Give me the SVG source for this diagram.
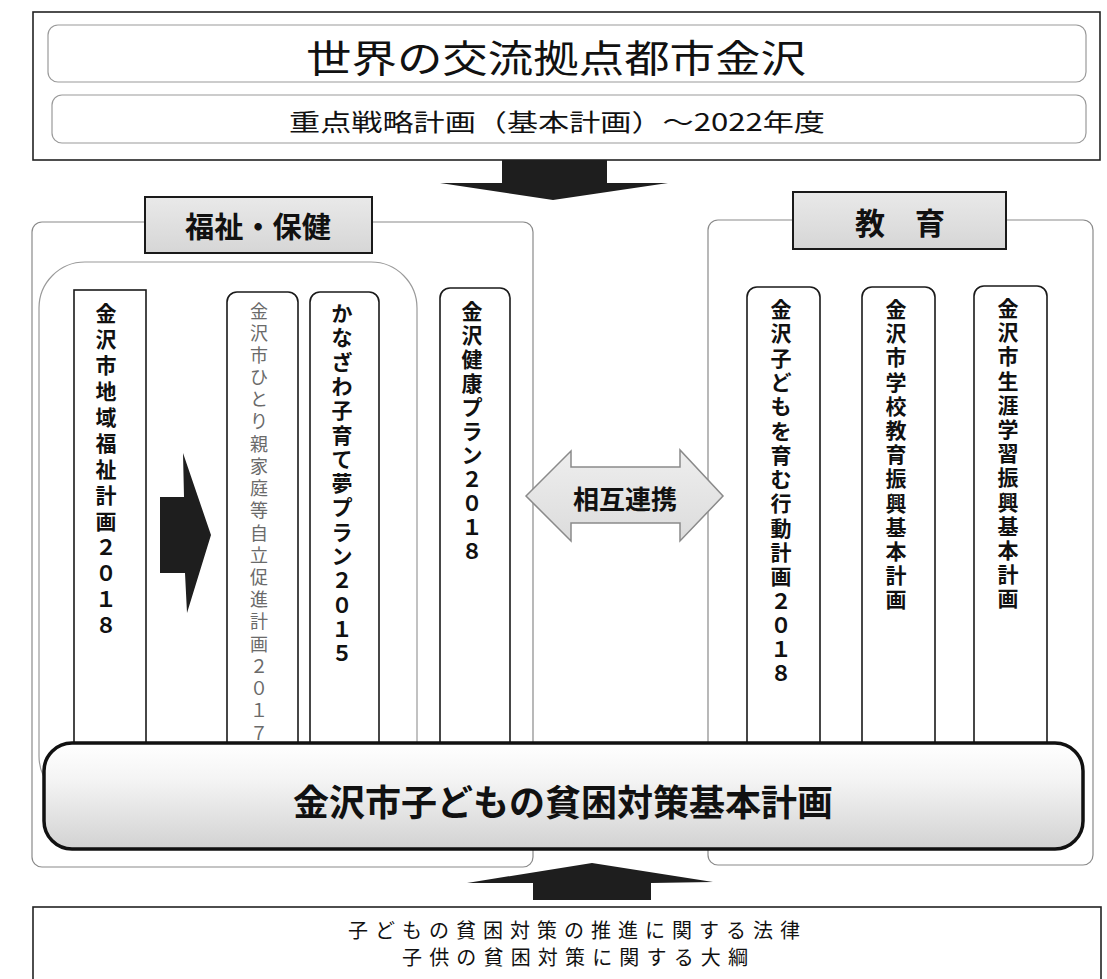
<svg xmlns="http://www.w3.org/2000/svg" width="1107" height="979" viewBox="0 0 1107 979">
<defs>
<style>
text{font-family:"Noto Sans CJK JP","Noto Sans CJK SC",sans-serif;fill:#111}
.col{font-size:21px;font-weight:bold;text-anchor:middle;dominant-baseline:central}
.colL{font-size:18px;font-weight:normal;fill:#6a6a6a;text-anchor:middle;dominant-baseline:central}
.frame{fill:#fff;stroke:#222;stroke-width:1.6}
.soft{fill:none;stroke:#9a9a9a;stroke-width:1.2}
.grp{fill:#fff;stroke:#8a8a8a;stroke-width:1.2}
.pill{fill:#fff;stroke:#1a1a1a;stroke-width:1.6}
.hdr{fill:url(#hdrg);stroke:#1a1a1a;stroke-width:2}
.dark{fill:#1e1e1e}
.ctr{text-anchor:middle;dominant-baseline:central}
</style>
<linearGradient id="hdrg" x1="0" y1="0" x2="0" y2="1">
<stop offset="0" stop-color="#e9e9e9"/><stop offset="1" stop-color="#d6d6d6"/>
</linearGradient>
<linearGradient id="maing" x1="0" y1="0" x2="0" y2="1">
<stop offset="0" stop-color="#ffffff"/><stop offset="0.35" stop-color="#f4f4f4"/><stop offset="1" stop-color="#d2d2d2"/>
</linearGradient>
<linearGradient id="dblg" x1="0" y1="0" x2="0" y2="1">
<stop offset="0" stop-color="#eeeeee"/><stop offset="1" stop-color="#dcdcdc"/>
</linearGradient>
</defs>
<rect width="1107" height="979" fill="#fff"/>

<g id="top">
<rect class="frame" x="33" y="12" width="1067" height="148"/>
<rect class="soft" x="48" y="25" width="1038" height="57" rx="10"/>
<rect class="soft" x="52" y="95" width="1034" height="48" rx="10"/>
<text class="ctr" x="556" y="55" font-size="38" textLength="500" lengthAdjust="spacingAndGlyphs">世界の交流拠点都市金沢</text>
<text class="ctr" x="557" y="120" font-size="24" textLength="536" lengthAdjust="spacingAndGlyphs">重点戦略計画（基本計画）～2022年度</text>
</g>

<g id="connectors">
<polygon id="arrow-down" class="dark" points="502,160 607,160 607,183 668,183 553,200 440,183 502,183"/>
<polygon id="arrow-up" class="dark" points="533,900 651,900 651,883 713,882 592,863 467,883 533,883"/>
</g>

<g id="group-welfare">
<rect class="grp" x="32" y="222" width="501" height="645" rx="10"/>
<rect class="soft" x="39" y="262" width="378" height="540" rx="46"/>
<rect class="hdr" x="145" y="197" width="227" height="56"/>
<text class="ctr" x="258" y="225" font-size="29" font-weight="bold" textLength="146" lengthAdjust="spacingAndGlyphs">福祉・保健</text>
</g>

<g id="group-education">
<rect class="grp" x="708" y="220" width="385" height="645" rx="10"/>
<rect class="hdr" x="793" y="192" width="213" height="57"/>
<text class="ctr" x="900" y="221" font-size="30" font-weight="bold">教　育</text>
</g>

<g id="plan-chiiki">
<rect class="pill" x="74" y="290" width="72" height="470"/>
<text class="col"><tspan x="106" y="312">金</tspan><tspan x="106" y="338">沢</tspan><tspan x="106" y="364">市</tspan><tspan x="106" y="390">地</tspan><tspan x="106" y="416">域</tspan><tspan x="106" y="442">福</tspan><tspan x="106" y="468">祉</tspan><tspan x="106" y="494">計</tspan><tspan x="106" y="520">画</tspan><tspan x="106" y="546">２</tspan><tspan x="106" y="572">０</tspan><tspan x="106" y="598">１</tspan><tspan x="106" y="624">８</tspan></text>
</g>

<g id="arrow-right">
<polygon class="dark" points="160,497 184,497 183,453 211,535 187,613 185,573 160,573"/>
</g>

<g id="plan-hitorioya">
<rect class="pill" x="227" y="292" width="71" height="470" rx="10"/>
<text class="colL"><tspan x="259" y="310">金</tspan><tspan x="259" y="332">沢</tspan><tspan x="259" y="354">市</tspan><tspan x="259" y="376">ひ</tspan><tspan x="259" y="398">と</tspan><tspan x="259" y="420">り</tspan><tspan x="259" y="443">親</tspan><tspan x="259" y="465">家</tspan><tspan x="259" y="487">庭</tspan><tspan x="259" y="509">等</tspan><tspan x="259" y="532">自</tspan><tspan x="259" y="554">立</tspan><tspan x="259" y="576">促</tspan><tspan x="259" y="598">進</tspan><tspan x="259" y="620">計</tspan><tspan x="259" y="643">画</tspan><tspan x="259" y="665">２</tspan><tspan x="259" y="687">０</tspan><tspan x="259" y="709">１</tspan><tspan x="259" y="732">７</tspan></text>
</g>

<g id="plan-kosodate">
<rect class="pill" x="310" y="292" width="69" height="470" rx="10"/>
<text class="col"><tspan x="342" y="312">か</tspan><tspan x="342" y="336">な</tspan><tspan x="342" y="361">ざ</tspan><tspan x="342" y="385">わ</tspan><tspan x="342" y="409">子</tspan><tspan x="342" y="434">育</tspan><tspan x="342" y="458">て</tspan><tspan x="342" y="482">夢</tspan><tspan x="342" y="506">プ</tspan><tspan x="342" y="531">ラ</tspan><tspan x="342" y="555">ン</tspan><tspan x="342" y="579">２</tspan><tspan x="342" y="604">０</tspan><tspan x="342" y="628">１</tspan><tspan x="342" y="652">５</tspan></text>
</g>

<g id="plan-kenko">
<rect class="pill" x="440" y="288" width="70" height="470" rx="10"/>
<text class="col"><tspan x="472" y="310">金</tspan><tspan x="472" y="334">沢</tspan><tspan x="472" y="358">健</tspan><tspan x="472" y="382">康</tspan><tspan x="472" y="406">プ</tspan><tspan x="472" y="430">ラ</tspan><tspan x="472" y="454">ン</tspan><tspan x="472" y="478">２</tspan><tspan x="472" y="502">０</tspan><tspan x="472" y="526">１</tspan><tspan x="472" y="550">８</tspan></text>
</g>

<g id="plan-kodomo">
<rect class="pill" x="747" y="287" width="73" height="470" rx="10"/>
<text class="col"><tspan x="781" y="308">金</tspan><tspan x="781" y="332">沢</tspan><tspan x="781" y="357">子</tspan><tspan x="781" y="381">ど</tspan><tspan x="781" y="405">も</tspan><tspan x="781" y="430">を</tspan><tspan x="781" y="454">育</tspan><tspan x="781" y="478">む</tspan><tspan x="781" y="502">行</tspan><tspan x="781" y="527">動</tspan><tspan x="781" y="551">計</tspan><tspan x="781" y="575">画</tspan><tspan x="781" y="600">２</tspan><tspan x="781" y="624">０</tspan><tspan x="781" y="648">１</tspan><tspan x="781" y="672">８</tspan></text>
</g>

<g id="plan-gakko">
<rect class="pill" x="862" y="287" width="73" height="470" rx="10"/>
<text class="col"><tspan x="896" y="308">金</tspan><tspan x="896" y="332">沢</tspan><tspan x="896" y="356">市</tspan><tspan x="896" y="381">学</tspan><tspan x="896" y="405">校</tspan><tspan x="896" y="429">教</tspan><tspan x="896" y="453">育</tspan><tspan x="896" y="477">振</tspan><tspan x="896" y="502">興</tspan><tspan x="896" y="526">基</tspan><tspan x="896" y="550">本</tspan><tspan x="896" y="574">計</tspan><tspan x="896" y="598">画</tspan></text>
</g>

<g id="plan-shogai">
<rect class="pill" x="974" y="286" width="73" height="470" rx="10"/>
<text class="col"><tspan x="1008" y="307">金</tspan><tspan x="1008" y="331">沢</tspan><tspan x="1008" y="355">市</tspan><tspan x="1008" y="380">生</tspan><tspan x="1008" y="404">涯</tspan><tspan x="1008" y="428">学</tspan><tspan x="1008" y="452">習</tspan><tspan x="1008" y="476">振</tspan><tspan x="1008" y="501">興</tspan><tspan x="1008" y="525">基</tspan><tspan x="1008" y="549">本</tspan><tspan x="1008" y="573">計</tspan><tspan x="1008" y="597">画</tspan></text>
</g>

<g id="mutual">
<polygon fill="url(#dblg)" stroke="#8a8a8a" stroke-width="1.5" points="526,496 571,451 571,467 680,467 680,450 723,496 680,541 680,523 571,523 571,541"/>
<text class="ctr" x="625" y="497" font-size="26" font-weight="bold">相互連携</text>
</g>

<g id="main-plan">
<rect x="44" y="743" width="1039" height="106" rx="28" fill="url(#maing)" stroke="#111" stroke-width="3.5"/>
<text class="ctr" x="563" y="800" font-size="36" font-weight="bold" textLength="540" lengthAdjust="spacingAndGlyphs">金沢市子どもの貧困対策基本計画</text>
</g>

<g id="law">
<rect class="frame" x="33" y="907" width="1068" height="90"/>
<text class="ctr" x="574" y="929" font-size="20" textLength="452" lengthAdjust="spacing">子どもの貧困対策の推進に関する法律</text>
<text class="ctr" x="575" y="956" font-size="20" textLength="346" lengthAdjust="spacing">子供の貧困対策に関する大綱</text>
</g>
</svg>
